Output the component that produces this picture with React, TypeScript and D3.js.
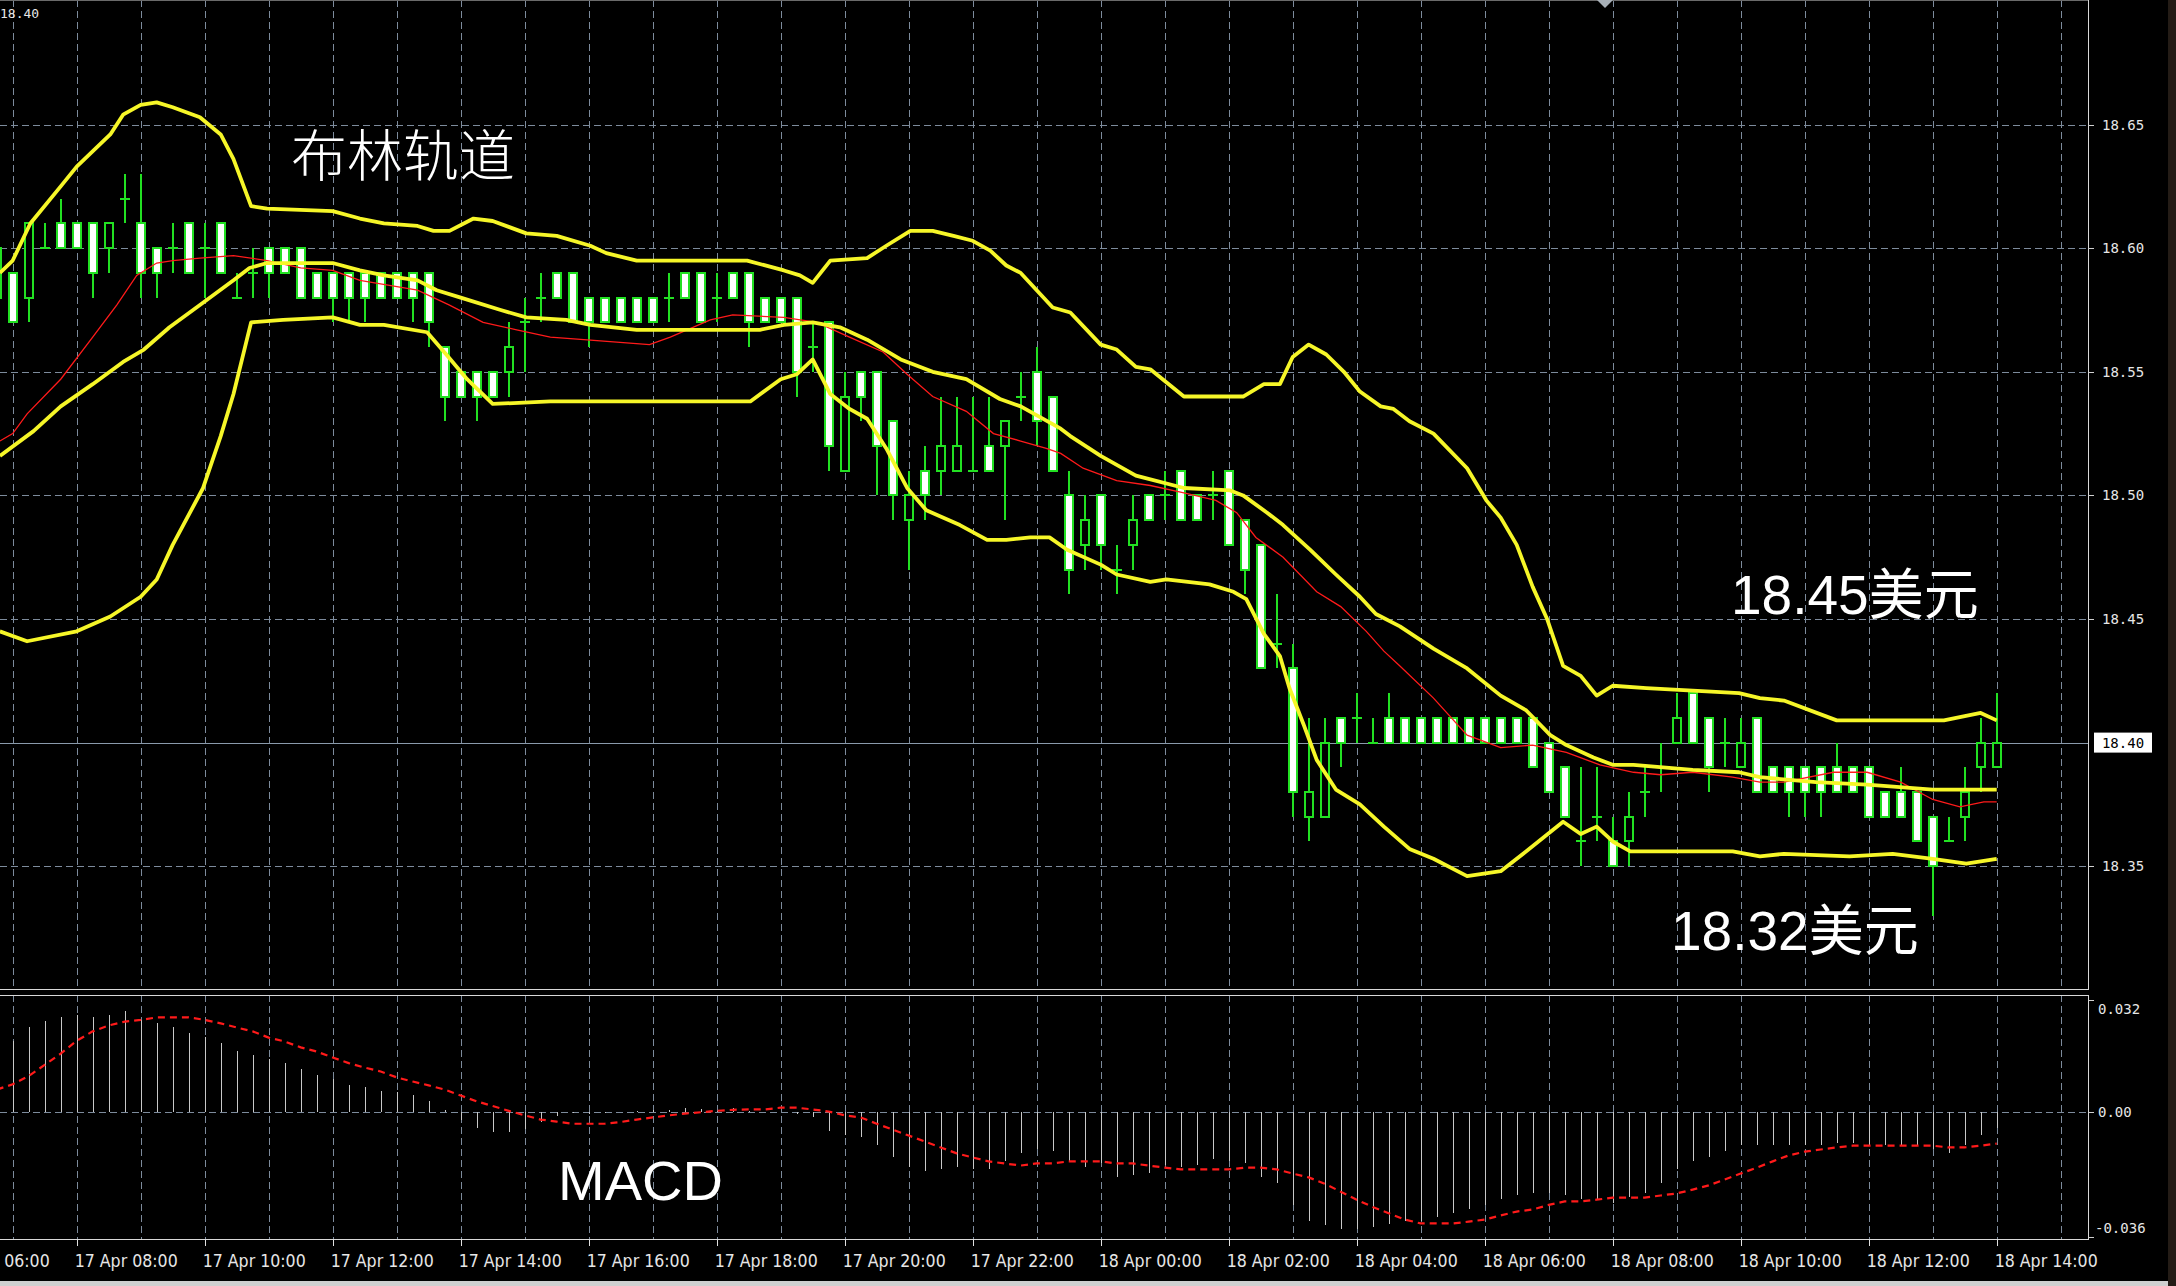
import * as d3 from "d3"
import { useEffect, useRef } from "react"

// 15-minute bars, 17 Apr 06:45 .. 18 Apr 14:00 (bar index -1 .. 124)
const opens = [
  18.60, 18.59, 18.58, 18.60, 18.61, 18.61, 18.61, 18.60, 18.62, 18.61,
  18.60, 18.60, 18.61, 18.60, 18.61, 18.58, 18.59, 18.60, 18.60, 18.60,
  18.59, 18.59, 18.59, 18.59, 18.59, 18.59, 18.59, 18.59, 18.56, 18.55,
  18.55, 18.55, 18.55, 18.57, 18.58, 18.59, 18.59, 18.58, 18.58, 18.58,
  18.58, 18.58, 18.58, 18.59, 18.59, 18.58, 18.59, 18.59, 18.58, 18.58,
  18.58, 18.56, 18.57, 18.51, 18.55, 18.55, 18.53, 18.49, 18.51, 18.51,
  18.51, 18.51, 18.52, 18.52, 18.54, 18.55, 18.54, 18.50, 18.48, 18.50,
  18.47, 18.48, 18.50, 18.50, 18.51, 18.50, 18.50, 18.51, 18.49, 18.48,
  18.44, 18.43, 18.37, 18.37, 18.41, 18.41, 18.40, 18.41, 18.41, 18.41,
  18.41, 18.41, 18.41, 18.41, 18.41, 18.41, 18.41, 18.40, 18.39, 18.36,
  18.37, 18.36, 18.36, 18.38, 18.39, 18.40, 18.42, 18.41, 18.40, 18.39,
  18.41, 18.39, 18.39, 18.39, 18.39, 18.39, 18.39, 18.39, 18.38, 18.38,
  18.38, 18.37, 18.36, 18.37, 18.39, 18.39,
]
const highs = [
  18.60, 18.59, 18.61, 18.61, 18.62, 18.61, 18.61, 18.61, 18.63, 18.63,
  18.60, 18.61, 18.61, 18.61, 18.61, 18.59, 18.60, 18.60, 18.60, 18.60,
  18.59, 18.59, 18.59, 18.59, 18.59, 18.59, 18.59, 18.59, 18.56, 18.55,
  18.55, 18.55, 18.57, 18.58, 18.59, 18.59, 18.59, 18.58, 18.58, 18.58,
  18.58, 18.58, 18.59, 18.59, 18.59, 18.59, 18.59, 18.59, 18.58, 18.58,
  18.58, 18.57, 18.57, 18.55, 18.55, 18.55, 18.53, 18.51, 18.52, 18.54,
  18.54, 18.54, 18.54, 18.53, 18.55, 18.56, 18.54, 18.51, 18.50, 18.50,
  18.48, 18.50, 18.50, 18.51, 18.51, 18.50, 18.51, 18.51, 18.49, 18.48,
  18.46, 18.44, 18.41, 18.41, 18.41, 18.42, 18.41, 18.42, 18.41, 18.41,
  18.41, 18.41, 18.41, 18.41, 18.41, 18.41, 18.41, 18.40, 18.39, 18.39,
  18.39, 18.37, 18.38, 18.39, 18.40, 18.42, 18.42, 18.41, 18.41, 18.41,
  18.41, 18.39, 18.39, 18.39, 18.39, 18.40, 18.39, 18.39, 18.38, 18.39,
  18.38, 18.37, 18.37, 18.39, 18.41, 18.42,
]
const lows = [
  18.58, 18.57, 18.57, 18.60, 18.60, 18.60, 18.58, 18.59, 18.61, 18.58,
  18.58, 18.59, 18.59, 18.58, 18.59, 18.58, 18.58, 18.58, 18.59, 18.58,
  18.58, 18.57, 18.57, 18.57, 18.58, 18.58, 18.57, 18.56, 18.53, 18.54,
  18.53, 18.54, 18.54, 18.55, 18.57, 18.58, 18.57, 18.56, 18.57, 18.57,
  18.57, 18.57, 18.57, 18.58, 18.57, 18.57, 18.58, 18.56, 18.57, 18.57,
  18.54, 18.55, 18.51, 18.51, 18.53, 18.50, 18.49, 18.47, 18.49, 18.50,
  18.51, 18.51, 18.51, 18.49, 18.53, 18.52, 18.51, 18.46, 18.47, 18.47,
  18.46, 18.47, 18.49, 18.49, 18.49, 18.49, 18.49, 18.48, 18.46, 18.43,
  18.43, 18.37, 18.36, 18.37, 18.39, 18.40, 18.40, 18.40, 18.40, 18.40,
  18.40, 18.40, 18.40, 18.40, 18.40, 18.40, 18.39, 18.38, 18.37, 18.35,
  18.36, 18.35, 18.35, 18.37, 18.38, 18.40, 18.40, 18.38, 18.39, 18.39,
  18.38, 18.38, 18.37, 18.37, 18.37, 18.38, 18.38, 18.37, 18.37, 18.37,
  18.36, 18.33, 18.36, 18.36, 18.38, 18.39,
]
const closes = [
  18.58, 18.57, 18.61, 18.60, 18.60, 18.60, 18.59, 18.61, 18.62, 18.59,
  18.59, 18.60, 18.59, 18.60, 18.59, 18.58, 18.59, 18.59, 18.59, 18.58,
  18.58, 18.58, 18.58, 18.58, 18.58, 18.58, 18.58, 18.57, 18.54, 18.54,
  18.54, 18.54, 18.56, 18.57, 18.58, 18.58, 18.57, 18.57, 18.57, 18.57,
  18.57, 18.57, 18.58, 18.58, 18.57, 18.58, 18.58, 18.57, 18.57, 18.57,
  18.55, 18.56, 18.52, 18.54, 18.54, 18.52, 18.50, 18.50, 18.50, 18.52,
  18.52, 18.51, 18.51, 18.53, 18.54, 18.53, 18.51, 18.47, 18.49, 18.48,
  18.47, 18.49, 18.49, 18.50, 18.49, 18.49, 18.50, 18.48, 18.47, 18.43,
  18.44, 18.38, 18.38, 18.40, 18.40, 18.41, 18.40, 18.40, 18.40, 18.40,
  18.40, 18.40, 18.40, 18.40, 18.40, 18.40, 18.39, 18.38, 18.37, 18.36,
  18.37, 18.35, 18.37, 18.38, 18.39, 18.41, 18.40, 18.39, 18.40, 18.40,
  18.38, 18.38, 18.38, 18.38, 18.38, 18.38, 18.38, 18.37, 18.37, 18.37,
  18.36, 18.35, 18.36, 18.38, 18.40, 18.40,
]

// MACD histogram and signal, same bars
const macdHist = [
  0.0170, 0.0203, 0.0243, 0.0260, 0.0272, 0.0277, 0.0272, 0.0277, 0.0289, 0.0262,
  0.0254, 0.0243, 0.0226, 0.0214, 0.0197, 0.0174, 0.0163, 0.0151, 0.0140, 0.0122,
  0.0105, 0.0094, 0.0077, 0.0071, 0.0059, 0.0057, 0.0048, 0.0031, 0.0003, -0.0025,
  -0.0048, -0.0059, -0.0059, -0.0051, -0.0029, -0.0012, -0.0004, -0.0006, -0.0005, 0.0000,
  0.0002, 0.0003, 0.0004, 0.0009, 0.0007, 0.0002, 0.0010, 0.0002, 0.0000, -0.0002,
  -0.0008, -0.0015, -0.0056, -0.0067, -0.0073, -0.0096, -0.0130, -0.0159, -0.0170, -0.0164,
  -0.0159, -0.0164, -0.0164, -0.0141, -0.0119, -0.0107, -0.0113, -0.0141, -0.0159, -0.0147,
  -0.0188, -0.0182, -0.0176, -0.0153, -0.0159, -0.0153, -0.0136, -0.0142, -0.0147, -0.0188,
  -0.0205, -0.0268, -0.0314, -0.0325, -0.0337, -0.0337, -0.0331, -0.0324, -0.0314, -0.0314,
  -0.0302, -0.0291, -0.0280, -0.0268, -0.0251, -0.0239, -0.0233, -0.0233, -0.0239, -0.0251,
  -0.0251, -0.0262, -0.0245, -0.0233, -0.0205, -0.0164, -0.0141, -0.0130, -0.0113, -0.0096,
  -0.0096, -0.0096, -0.0096, -0.0096, -0.0096, -0.0090, -0.0090, -0.0096, -0.0096, -0.0096,
  -0.0096, -0.0107, -0.0119, -0.0096, -0.0067, -0.0046,
]
const macdSignal = [
  0.0063, 0.0078, 0.0102, 0.0134, 0.0166, 0.0203, 0.0230, 0.0247, 0.0258, 0.0263,
  0.0270, 0.0270, 0.0270, 0.0263, 0.0253, 0.0241, 0.0230, 0.0212, 0.0201, 0.0184,
  0.0172, 0.0155, 0.0139, 0.0126, 0.0115, 0.0098, 0.0086, 0.0075, 0.0063, 0.0046,
  0.0029, 0.0016, 0.0002, -0.0011, -0.0023, -0.0029, -0.0035, -0.0035, -0.0035, -0.0030,
  -0.0023, -0.0017, -0.0011, -0.0006, -0.0002, 0.0002, 0.0005, 0.0006, 0.0006, 0.0011,
  0.0011, 0.0006, 0.0000, -0.0011, -0.0017, -0.0035, -0.0052, -0.0069, -0.0086, -0.0103,
  -0.0120, -0.0132, -0.0143, -0.0149, -0.0155, -0.0149, -0.0149, -0.0143, -0.0143, -0.0143,
  -0.0149, -0.0149, -0.0155, -0.0161, -0.0166, -0.0166, -0.0166, -0.0166, -0.0161, -0.0161,
  -0.0166, -0.0178, -0.0189, -0.0207, -0.0230, -0.0253, -0.0274, -0.0292, -0.0310, -0.0321,
  -0.0321, -0.0321, -0.0316, -0.0310, -0.0298, -0.0287, -0.0281, -0.0268, -0.0258, -0.0258,
  -0.0253, -0.0247, -0.0247, -0.0247, -0.0241, -0.0235, -0.0224, -0.0212, -0.0195, -0.0178,
  -0.0161, -0.0143, -0.0126, -0.0115, -0.0109, -0.0103, -0.0098, -0.0098, -0.0098, -0.0098,
  -0.0098, -0.0098, -0.0103, -0.0103, -0.0098, -0.0092,
]

// bollinger bands + red MA as [bar index, price]
const upperBand: [number, number][] = [
  [-0.8, 18.590], [0, 18.595], [1.1, 18.610], [3, 18.625], [4, 18.633], [6.1, 18.646], [6.9, 18.654],
  [8, 18.658], [9, 18.659], [10, 18.657], [11.7, 18.653], [13, 18.646], [13.8, 18.636], [14.9, 18.617],
  [15.9, 18.616], [20, 18.615], [21.7, 18.612], [23.2, 18.610], [25.3, 18.609], [26.3, 18.607],
  [27.3, 18.607], [28.8, 18.612], [30, 18.611], [32.1, 18.606], [34, 18.605], [36.1, 18.601],
  [37.1, 18.598], [39, 18.595], [45.9, 18.595], [48.2, 18.591], [49.2, 18.589], [50, 18.586],
  [51.1, 18.595], [53.4, 18.596], [54.6, 18.601], [56.1, 18.607], [57.5, 18.607], [58.8, 18.605],
  [60, 18.603], [61.1, 18.599], [62.1, 18.593], [63, 18.590], [65, 18.576], [66.1, 18.574],
  [68, 18.561], [69, 18.559], [70.2, 18.552], [71.1, 18.551], [73.2, 18.540], [76.9, 18.540],
  [78.2, 18.545], [79.2, 18.545], [80, 18.556], [81, 18.561], [82.1, 18.557], [83.2, 18.550],
  [84.2, 18.542], [85.5, 18.536], [86.3, 18.535], [87.3, 18.530], [88.8, 18.525], [90.9, 18.511],
  [92.1, 18.498], [93, 18.491], [94, 18.480], [95, 18.463], [95.9, 18.450], [96.9, 18.431],
  [98, 18.427], [99, 18.419], [100, 18.423], [102.1, 18.422], [105, 18.421], [107.9, 18.420],
  [109.2, 18.418], [110.7, 18.417], [114, 18.409], [120.7, 18.409], [123, 18.412], [124, 18.409],
]
const middleBand: [number, number][] = [
  [-0.8, 18.516], [1.3, 18.526], [3, 18.536], [5, 18.545], [6.9, 18.554], [8.2, 18.559], [9.8, 18.568],
  [11.7, 18.577], [13.8, 18.587], [14.8, 18.592], [15.9, 18.594], [20, 18.594], [21.7, 18.591],
  [23.2, 18.589], [25.3, 18.587], [26.5, 18.583], [28, 18.580], [30.5, 18.575], [32.1, 18.572],
  [34.6, 18.571], [36.1, 18.569], [39, 18.567], [46.7, 18.567], [48.2, 18.569], [50, 18.570],
  [51.7, 18.568], [53.4, 18.563], [55.5, 18.555], [57.5, 18.550], [59.6, 18.547], [61.7, 18.539],
  [63, 18.536], [65.5, 18.527], [66.1, 18.524], [68, 18.516], [70.2, 18.508], [73.2, 18.503],
  [76.1, 18.502], [76.9, 18.500], [78.4, 18.493], [79.4, 18.488], [81.1, 18.478], [82.7, 18.468],
  [84.2, 18.459], [85.2, 18.452], [86.7, 18.447], [88.8, 18.438], [90.9, 18.430], [93, 18.419],
  [94.6, 18.413], [96.1, 18.403], [97.1, 18.399], [98.8, 18.394], [100, 18.391], [101.3, 18.391],
  [105, 18.389], [107.9, 18.388], [109.2, 18.386], [112.7, 18.384], [115.9, 18.383], [120, 18.381],
  [124, 18.381],
]
const lowerBand: [number, number][] = [
  [-0.8, 18.445], [0.9, 18.441], [4, 18.445], [6.1, 18.451], [8, 18.459], [9, 18.466], [10, 18.480],
  [11.9, 18.503], [13, 18.524], [13.8, 18.541], [14.9, 18.570], [16.9, 18.571], [20, 18.572],
  [21.7, 18.569], [23.2, 18.569], [25.9, 18.566], [27.1, 18.557], [28.4, 18.547], [30, 18.537],
  [33.6, 18.538], [46.1, 18.538], [48, 18.547], [49, 18.549], [50, 18.555], [51.1, 18.541],
  [52.3, 18.535], [53.4, 18.531], [54.6, 18.519], [55.9, 18.503], [57.1, 18.494], [59.2, 18.488],
  [60.9, 18.482], [62.1, 18.482], [63.6, 18.483], [64.8, 18.483], [65.9, 18.478], [68, 18.472],
  [69, 18.468], [71.1, 18.465], [72.1, 18.466], [74.8, 18.464], [76.3, 18.461], [77.1, 18.458],
  [78.2, 18.444], [79.2, 18.435], [79.8, 18.422], [80.7, 18.407], [81.5, 18.393], [82.7, 18.381],
  [84.2, 18.375], [85.7, 18.366], [87.3, 18.357], [88.8, 18.353], [90.9, 18.346], [93, 18.348],
  [94.6, 18.356], [96.9, 18.368], [98, 18.363], [99, 18.366], [100, 18.360], [101.1, 18.356],
  [107.5, 18.356], [109.2, 18.354], [110.7, 18.355], [114.8, 18.354], [117.5, 18.355],
  [120, 18.353], [122.1, 18.351], [124, 18.353],
]
const redMa: [number, number][] = [
  [-0.8, 18.522], [0, 18.525], [0.9, 18.533], [3, 18.547], [5, 18.564], [6.5, 18.577], [7.75, 18.589],
  [9, 18.594], [10, 18.595], [11.7, 18.596], [13.8, 18.597], [15.9, 18.595], [18, 18.592], [20, 18.591],
  [21.7, 18.587], [25.3, 18.583], [27.3, 18.577], [29.4, 18.570], [31.5, 18.567], [33.6, 18.564],
  [35.7, 18.563], [37.75, 18.562], [39.8, 18.561], [41.1, 18.564], [43.6, 18.571], [45, 18.573],
  [48.2, 18.572], [50.25, 18.570], [52.3, 18.564], [54.4, 18.558], [55.9, 18.549], [57.5, 18.540],
  [59.6, 18.534], [61.3, 18.525], [63, 18.522], [64.6, 18.519], [65.5, 18.517], [66.9, 18.511],
  [69, 18.506], [71.1, 18.504], [73.2, 18.501], [75.2, 18.498], [76.5, 18.493], [77.7, 18.483],
  [79.4, 18.475], [81.5, 18.461], [83, 18.455], [84.6, 18.445], [85.7, 18.437], [86.7, 18.431],
  [88.8, 18.418], [90.9, 18.403], [93, 18.398], [95, 18.399], [97.1, 18.396], [99.2, 18.391],
  [101.3, 18.388], [103, 18.387], [105, 18.388], [107.5, 18.386], [109.2, 18.384], [110.7, 18.384],
  [113.8, 18.388], [115.9, 18.388], [118, 18.384], [120, 18.377], [121.7, 18.374], [123.2, 18.376],
  [124, 18.376],
]

const priceTicks = [18.35, 18.40, 18.45, 18.50, 18.55, 18.60, 18.65]
const macdTicks = [0.032, 0, -0.036]
const lastPrice = 18.40

export default function App() {
  const svgRef = useRef<SVGSVGElement>(null)

  useEffect(() => {
    if (!svgRef.current) return
    const W = 2176
    const H = 1286
    const plotRight = 2088
    const mainBottom = 989
    const macdTop = 995
    const macdBottom = 1239
    const green = "#22e022"
    const gridColor = "#7d8b9c"
    const axisFont = "'DejaVu Sans Mono', monospace"
    const noteFont = "'Liberation Sans', 'Noto Sans CJK SC', sans-serif"

    const svg = d3.select(svgRef.current)
    svg.selectAll("*").remove()
    svg.attr("width", W).attr("height", H).attr("viewBox", `0 0 ${W} ${H}`)

    // bar index -> x, first bar (index -1) is 17 Apr 06:45
    const x = d3.scaleLinear().domain([-1, 124]).range([-3.3, 1996.7])
    const xt = d3
      .scaleTime()
      .domain([new Date(2016, 3, 17, 7), new Date(2016, 3, 18, 14)])
      .range([12.7, 1996.7])
    const y = d3.scaleLinear().domain([18.35, 18.65]).range([866.2, 124.6])
    const ym = d3.scaleLinear().domain([-0.036, 0.032]).range([1237, 1000])

    svg.append("rect").attr("width", W).attr("height", H).attr("fill", "#000")

    const defs = svg.append("defs")
    defs.append("clipPath").attr("id", "clip-main")
      .append("rect").attr("x", 0).attr("y", 0).attr("width", plotRight).attr("height", mainBottom)
    defs.append("clipPath").attr("id", "clip-macd")
      .append("rect").attr("x", 0).attr("y", macdTop).attr("width", plotRight).attr("height", macdBottom - macdTop)

    const hours = d3.timeHour.range(new Date(2016, 3, 17, 7), new Date(2016, 3, 18, 16))
    const labelHours = d3.timeHour.every(2)!.range(new Date(2016, 3, 17, 6), new Date(2016, 3, 18, 15))

    // grid
    const grid = svg.append("g").attr("shape-rendering", "crispEdges")
    grid.selectAll(".vg-main").data(hours).enter().append("line")
      .attr("x1", (d) => Math.round(xt(d)) + 0.5).attr("x2", (d) => Math.round(xt(d)) + 0.5)
      .attr("y1", 0).attr("y2", mainBottom)
      .attr("stroke", gridColor).attr("stroke-dasharray", "7,4")
    grid.selectAll(".vg-macd").data(hours).enter().append("line")
      .attr("x1", (d) => Math.round(xt(d)) + 0.5).attr("x2", (d) => Math.round(xt(d)) + 0.5)
      .attr("y1", macdTop).attr("y2", macdBottom)
      .attr("stroke", gridColor).attr("stroke-dasharray", "7,4")
    grid.selectAll(".hg").data(priceTicks).enter().append("line")
      .attr("x1", 0).attr("x2", plotRight)
      .attr("y1", (d) => Math.round(y(d)) + 0.5).attr("y2", (d) => Math.round(y(d)) + 0.5)
      .attr("stroke", gridColor).attr("stroke-dasharray", "7,4")
    grid.append("line")
      .attr("x1", 0).attr("x2", plotRight)
      .attr("y1", Math.round(ym(0)) + 0.5).attr("y2", Math.round(ym(0)) + 0.5)
      .attr("stroke", gridColor).attr("stroke-dasharray", "7,4")

    // current price line
    grid.append("line")
      .attr("x1", 0).attr("x2", plotRight)
      .attr("y1", Math.round(y(lastPrice)) + 0.5).attr("y2", Math.round(y(lastPrice)) + 0.5)
      .attr("stroke", "#8a9aab").attr("stroke-width", 1)

    // candles
    const bars = d3.range(opens.length).map((i) => ({
      k: i - 1, o: opens[i], h: highs[i], l: lows[i], c: closes[i],
    }))
    const main = svg.append("g").attr("clip-path", "url(#clip-main)")
    const cg = main.append("g").attr("shape-rendering", "crispEdges")
    cg.selectAll(".wick").data(bars).enter().append("line")
      .attr("x1", (d) => Math.round(x(d.k))).attr("x2", (d) => Math.round(x(d.k)))
      .attr("y1", (d) => y(d.h)).attr("y2", (d) => y(d.l))
      .attr("stroke", green).attr("stroke-width", 2)
    cg.selectAll(".doji").data(bars.filter((d) => d.o === d.c)).enter().append("line")
      .attr("x1", (d) => Math.round(x(d.k)) - 5).attr("x2", (d) => Math.round(x(d.k)) + 5)
      .attr("y1", (d) => Math.round(y(d.o))).attr("y2", (d) => Math.round(y(d.o)))
      .attr("stroke", green).attr("stroke-width", 2)
    cg.selectAll(".body").data(bars.filter((d) => d.o !== d.c)).enter().append("rect")
      .attr("x", (d) => Math.round(x(d.k)) - 4)
      .attr("y", (d) => y(Math.max(d.o, d.c)))
      .attr("width", 8)
      .attr("height", (d) => Math.abs(y(d.o) - y(d.c)))
      .attr("fill", (d) => (d.c < d.o ? "#ffffff" : "#000000"))
      .attr("stroke", green).attr("stroke-width", 2)

    // bands
    const line = d3.line<[number, number]>().x((d) => x(d[0])).y((d) => y(d[1]))
    main.append("path").datum(redMa).attr("d", line).attr("fill", "none")
      .attr("stroke", "#ff1a1a").attr("stroke-width", 1.3)
    ;[upperBand, middleBand, lowerBand].forEach((band) => {
      main.append("path").datum(band).attr("d", line).attr("fill", "none")
        .attr("stroke", "#f6f628").attr("stroke-width", 3.8).attr("stroke-linejoin", "round")
    })

    // MACD panel
    const macd = svg.append("g").attr("clip-path", "url(#clip-macd)")
    macd.append("g").attr("shape-rendering", "crispEdges")
      .selectAll("line").data(macdHist).enter().append("line")
      .attr("x1", (_, i) => Math.round(x(i - 1)) + 0.5).attr("x2", (_, i) => Math.round(x(i - 1)) + 0.5)
      .attr("y1", ym(0)).attr("y2", (d) => ym(d))
      .attr("stroke", "#c8c8c8").attr("stroke-width", 1.5)
    const sigLine = d3.line<number>().x((_, i) => x(i - 1)).y((d) => ym(d))
    macd.append("path").datum(macdSignal).attr("d", sigLine).attr("fill", "none")
      .attr("stroke", "#ff1a1a").attr("stroke-width", 2.2).attr("stroke-dasharray", "7,5")

    // frames
    const frame = svg.append("g").attr("shape-rendering", "crispEdges").attr("fill", "none")
    frame.append("line").attr("x1", 0).attr("x2", plotRight).attr("y1", 0.5).attr("y2", 0.5).attr("stroke", "#6a6a6a")
    frame.append("line").attr("x1", plotRight + 0.5).attr("x2", plotRight + 0.5).attr("y1", 0).attr("y2", mainBottom)
      .attr("stroke", "#d8d8d8").attr("stroke-width", 1.5)
    frame.append("line").attr("x1", 0).attr("x2", plotRight + 1).attr("y1", mainBottom + 0.5).attr("y2", mainBottom + 0.5)
      .attr("stroke", "#d8d8d8").attr("stroke-width", 1.5)
    frame.append("line").attr("x1", 0).attr("x2", plotRight + 1).attr("y1", macdTop + 0.5).attr("y2", macdTop + 0.5)
      .attr("stroke", "#d8d8d8").attr("stroke-width", 1.5)
    frame.append("line").attr("x1", plotRight + 0.5).attr("x2", plotRight + 0.5).attr("y1", macdTop).attr("y2", macdBottom)
      .attr("stroke", "#d8d8d8").attr("stroke-width", 1.5)
    frame.append("line").attr("x1", 0).attr("x2", plotRight + 1).attr("y1", macdBottom + 0.5).attr("y2", macdBottom + 0.5)
      .attr("stroke", "#d8d8d8").attr("stroke-width", 1.5)

    // right price axis
    const ra = svg.append("g")
    ra.selectAll(".pt").data(priceTicks.filter((d) => d !== lastPrice)).enter().append("line")
      .attr("x1", plotRight).attr("x2", plotRight + 6)
      .attr("y1", (d) => Math.round(y(d)) + 0.5).attr("y2", (d) => Math.round(y(d)) + 0.5)
      .attr("stroke", "#d0d0d0").attr("shape-rendering", "crispEdges")
    ra.selectAll(".pl").data(priceTicks.filter((d) => d !== lastPrice)).enter().append("text")
      .attr("x", 2102).attr("y", (d) => y(d)).attr("dy", "0.36em")
      .attr("font-family", axisFont).attr("font-size", 14).attr("fill", "#e6e6e6")
      .text((d) => d.toFixed(2))
    ra.append("rect").attr("x", 2094).attr("y", y(lastPrice) - 10).attr("width", 58).attr("height", 20)
      .attr("fill", "#ffffff")
    ra.append("text").attr("x", 2123).attr("y", y(lastPrice)).attr("dy", "0.36em").attr("text-anchor", "middle")
      .attr("font-family", axisFont).attr("font-size", 14).attr("fill", "#000")
      .text(lastPrice.toFixed(2))

    ra.selectAll(".mt").data(macdTicks).enter().append("line")
      .attr("x1", plotRight).attr("x2", plotRight + 6)
      .attr("y1", (d) => Math.round(ym(d)) + 0.5).attr("y2", (d) => Math.round(ym(d)) + 0.5)
      .attr("stroke", "#d0d0d0").attr("shape-rendering", "crispEdges")
    ra.selectAll(".ml").data(macdTicks).enter().append("text")
      .attr("x", (d) => (d < 0 ? 2095 : 2098))
      .attr("y", (d) => (d === 0.032 ? 1009 : d < 0 ? 1228 : ym(d)))
      .attr("dy", "0.36em")
      .attr("font-family", axisFont).attr("font-size", 14).attr("fill", "#e6e6e6")
      .text((d) => (d === 0 ? "0.00" : d.toFixed(3)))

    // time axis
    const fmt = d3.timeFormat("%-d %b %H:%M")
    const ta = svg.append("g")
    ta.selectAll("line").data(labelHours).enter().append("line")
      .attr("x1", (d) => Math.round(xt(d)) + 0.5).attr("x2", (d) => Math.round(xt(d)) + 0.5)
      .attr("y1", macdBottom).attr("y2", macdBottom + 7)
      .attr("stroke", "#e0e0e0").attr("shape-rendering", "crispEdges")
    ta.selectAll("text").data(labelHours).enter().append("text")
      .attr("x", (d) => xt(d) - 2).attr("y", 1267)
      .attr("font-family", "'Liberation Sans Narrow', 'DejaVu Sans Condensed', sans-serif")
      .attr("font-size", 17).attr("fill", "#e6e6e6")
      .attr("textLength", 103).attr("lengthAdjust", "spacingAndGlyphs")
      .text((d) => fmt(d))

    // header bits
    svg.append("text").attr("x", 0).attr("y", 18).attr("font-family", axisFont).attr("font-size", 13)
      .attr("fill", "#e6e6e6").text("18.40")
    svg.append("path").attr("d", "M1597,0 L1613,0 L1605,8 Z").attr("fill", "#a8b0b8")

    // annotations
    const notes = svg.append("g").attr("font-family", noteFont).attr("fill", "#ffffff")
    notes.append("text").attr("x", 291).attr("y", 176).attr("font-size", 56)
      .attr("font-family", "'Noto Sans CJK SC', sans-serif").attr("font-weight", 300).text("布林轨道")
    notes.append("text").attr("x", 1731).attr("y", 614).attr("font-size", 55).text("18.45美元")
    notes.append("text").attr("x", 1671).attr("y", 950).attr("font-size", 55).text("18.32美元")
    notes.append("text").attr("x", 558).attr("y", 1200).attr("font-size", 56).text("MACD")

    // window edges
    svg.append("rect").attr("x", 2168).attr("y", 0).attr("width", 8).attr("height", H).attr("fill", "#241c16")
    svg.append("rect").attr("x", 0).attr("y", 1281).attr("width", 2168).attr("height", 5).attr("fill", "#cfcfcf")
  }, [])

  return <svg ref={svgRef} style={{ position: "absolute", left: 0, top: 0, display: "block" }} />
}
